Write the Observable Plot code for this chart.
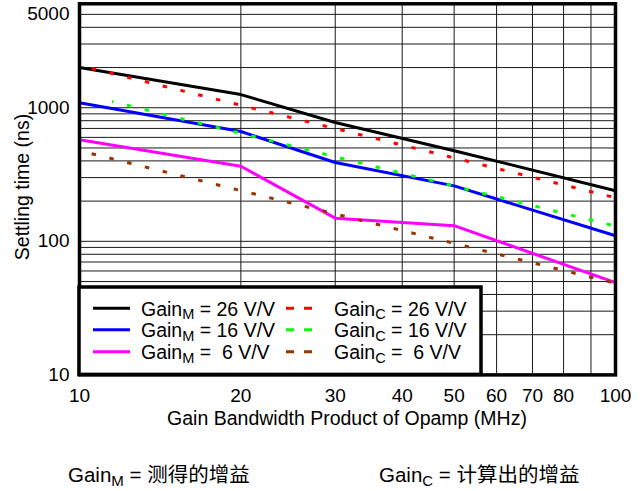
<!DOCTYPE html>
<html>
<head>
<meta charset="utf-8">
<script src="https://cdn.jsdelivr.net/npm/d3@7"></script>
<script src="https://cdn.jsdelivr.net/npm/@observablehq/plot@0.6"></script>
<style>
  html, body { margin: 0; padding: 0; background: #fff; }
  #chart svg { display: block; }
</style>
</head>
<body>
<div id="chart"></div>
<script>
// ---- data ----
const gbw = [10, 20, 30, 50, 100];                 // MHz, measured points
const measured26 = [2000, 1255, 776, 477, 239];    // ns
const measured16 = [1090, 664, 389, 260, 110];
const measured6  = [576, 365, 149, 131, 49];

const calcGbw   = [10, 100];
const calcGbw16 = [11.5, 100];
const calc26 = [2075, 212];
const calc16 = [1114, 130];
const calc6  = [477, 48.5];

const xTicks = [10, 20, 30, 40, 50, 60, 70, 80, 100];
const xGrid  = [20, 30, 40, 50, 60, 70, 80, 90];
const yTicks = [10, 100, 1000, 5000];
const yGrid  = [20, 30, 40, 50, 60, 70, 80, 90,
                100, 200, 300, 400, 500, 600, 700, 800, 900,
                1000, 2000, 3000, 4000, 5000];

const xTitle = "Gain Bandwidth Product of Opamp (MHz)";
const yTitle = "Settling time (ns)";
const gainLabels = ["26 V/V", "16 V/V", " 6 V/V"];
const measuredColors = ["#000000", "#0000ff", "#ff00ff"];
const calcColors = ["#ff0000", "#00ff00", "#993300"];
const captionM = ["Gain", "M", " = 测得的增益"];
const captionC = ["Gain", "C", " = 计算出的增益"];

// ---- tables ----
const toRows = (xs, ys) => xs.map((x, i) => ({x, y: ys[i]}));
const mRows = [toRows(gbw, measured26), toRows(gbw, measured16), toRows(gbw, measured6)];
const cRows = [toRows(calcGbw, calc26), toRows(calcGbw16, calc16), toRows(calcGbw, calc6)];

const FONT = "'Liberation Sans', Arial, Helvetica, 'Noto Sans CJK SC', sans-serif";

const chart = Plot.plot({
  width: 642,
  height: 491,
  marginLeft: 79,
  marginRight: 27,
  marginTop: 3.3,
  marginBottom: 116.6,
  style: {fontFamily: FONT, fontSize: "19px", color: "black", background: "white"},
  x: {type: "log", domain: [10, 100], axis: null},
  y: {type: "log", domain: [10, 6000], axis: null},
  marks: [
    Plot.ruleY(yGrid, {stroke: "#1a1a1a", strokeWidth: 1}),
    Plot.ruleX(xGrid, {stroke: "#1a1a1a", strokeWidth: 1}),
    ...mRows.map((rows, i) => Plot.line(rows, {
      x: "x", y: "y", stroke: measuredColors[i], strokeWidth: 3, strokeLinejoin: "round"
    })),
    ...cRows.map((rows, i) => Plot.line(rows, {
      x: "x", y: "y", stroke: calcColors[i], strokeWidth: 3,
      strokeDasharray: "4.5,13.8", strokeDashoffset: i === 1 ? 3 : 5.85, strokeLinecap: "butt"
    })),
    Plot.frame({stroke: "black", strokeWidth: 3.5}),
    Plot.text(xTicks, {x: d => d, frameAnchor: "bottom", dy: 20.6, text: d => String(d), fontSize: 19, lineAnchor: "middle"}),
    Plot.text(yTicks, {y: d => d, frameAnchor: "left", dx: -10, textAnchor: "end", text: d => String(d), fontSize: 19, lineAnchor: "middle"})
  ]
});

document.getElementById("chart").appendChild(chart);

const svg = d3.select(chart);

// ---- axis titles ----
const tg = svg.append("g").attr("font-family", FONT).attr("fill", "black").attr("font-size", 19.5);
tg.append("text").attr("x", 347).attr("y", 424.5).attr("text-anchor", "middle").text(xTitle);
tg.append("text").attr("transform", "translate(29,187) rotate(-90)").attr("text-anchor", "middle").text(yTitle);

// ---- legend box (drawn over the plot area) and captions ----
const lg = svg.append("g").attr("font-family", FONT).attr("fill", "black");
lg.append("rect")
  .attr("x", 79).attr("y", 287).attr("width", 402).attr("height", 87.4)
  .attr("fill", "white").attr("stroke", "black").attr("stroke-width", 3.5);

const rowY = [308.3, 329.8, 351.7];

function subText(sel, x, y, parts, size, subSize, shift) {
  const t = sel.append("text")
    .attr("x", x).attr("y", y)
    .attr("font-size", size)
    .attr("text-anchor", "start")
    .style("white-space", "pre")
    .attr("xml:space", "preserve");
  t.append("tspan").text(parts[0]);
  t.append("tspan").attr("font-size", subSize).attr("dy", shift).text(parts[1]);
  t.append("tspan").attr("dy", -shift).text(parts[2]);
  return t;
}

gainLabels.forEach((lab, i) => {
  const y = rowY[i];
  lg.append("line").attr("x1", 93).attr("x2", 130).attr("y1", y).attr("y2", y)
    .attr("stroke", measuredColors[i]).attr("stroke-width", 3);
  subText(lg, 141, y + 7.6, ["Gain", "M", " = " + lab], 19.5, 14.5, 3.5);
  lg.append("line").attr("x1", 286).attr("x2", 312).attr("y1", y).attr("y2", y)
    .attr("stroke", calcColors[i]).attr("stroke-width", 3)
    .attr("stroke-dasharray", "8,10");
  subText(lg, 334, y + 7.6, ["Gain", "C", " = " + lab], 19.5, 14.5, 3.5);
});

const cg = svg.append("g").attr("font-family", FONT).attr("fill", "black");
subText(cg, 68, 482, captionM, 20.5, 15, 3.5);
subText(cg, 379, 482, captionC, 20.5, 15, 3.5);
</script>
</body>
</html>
